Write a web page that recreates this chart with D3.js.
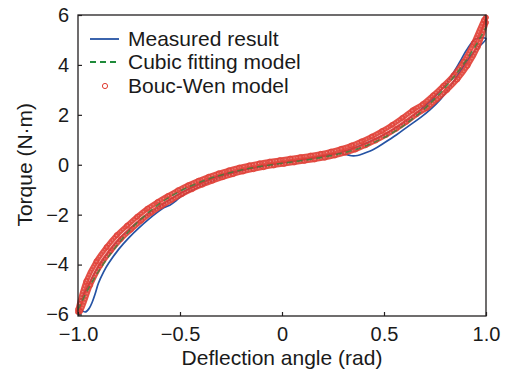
<!DOCTYPE html>
<html>
<head>
<meta charset="utf-8">
<script src="https://cdn.jsdelivr.net/npm/d3@7"></script>
<style>
	body { margin: 0; background: #fff; }
	svg { display: block; font-family: 'Liberation Sans', Arial, sans-serif; }
</style>
</head>
<body>
<div id="chart"></div>
<script>
// measured loop, [angle (rad), torque (N·m)], loading then unloading
const measuredUp = [[-1.0,-5.6],[-0.985,-5.8],[-0.965,-5.9],[-0.945,-5.75],[-0.93,-5.5],[-0.915,-5.15],[-0.9,-4.75],[-0.875,-4.3],[-0.85,-3.95],[-0.8,-3.38],[-0.75,-2.92],[-0.7,-2.52],[-0.65,-2.16],[-0.61,-1.9],[-0.58,-1.72],[-0.55,-1.62],[-0.52,-1.45],[-0.5,-1.3],[-0.45,-1.06],[-0.4,-0.86],[-0.35,-0.68],[-0.3,-0.5],[-0.2,-0.25],[-0.1,-0.08],[0,0.06],[0.1,0.2],[0.2,0.35],[0.28,0.46],[0.31,0.42],[0.34,0.36],[0.37,0.37],[0.4,0.45],[0.45,0.62],[0.5,0.87],[0.56,1.19],[0.62,1.55],[0.68,1.9],[0.725,2.2],[0.78,2.65],[0.83,3.2],[0.87,3.7],[0.91,4.2],[0.95,4.6],[1.0,5.05]]
const measuredDown = [[1.0,5.05],[0.95,5.05],[0.905,4.6],[0.87,4.1],[0.8,3.2],[0.7,2.35],[0.6,1.7],[0.5,1.2],[0.4,0.82],[0.3,0.52],[0.2,0.33],[0.1,0.18],[0,0.06],[-0.1,-0.06],[-0.2,-0.22],[-0.3,-0.42],[-0.4,-0.75],[-0.5,-1.15],[-0.6,-1.68],[-0.7,-2.25],[-0.8,-3.0],[-0.9,-4.1],[-0.95,-4.85],[-1.0,-5.6]]

// cubic fitting model
const cubicModel = [[-1,-5.8],[-0.95,-4.98],[-0.9,-4.28],[-0.85,-3.68],[-0.8,-3.14],[-0.75,-2.66],[-0.7,-2.24],[-0.65,-1.88],[-0.6,-1.56],[-0.55,-1.29],[-0.5,-1.06],[-0.45,-0.86],[-0.4,-0.69],[-0.35,-0.54],[-0.3,-0.42],[-0.25,-0.31],[-0.2,-0.21],[-0.15,-0.13],[-0.1,-0.06],[-0.05,0.0],[0,0.06],[0.05,0.11],[0.1,0.17],[0.15,0.23],[0.2,0.3],[0.25,0.38],[0.3,0.47],[0.35,0.58],[0.4,0.72],[0.45,0.89],[0.5,1.09],[0.55,1.32],[0.6,1.59],[0.65,1.9],[0.7,2.25],[0.75,2.65],[0.8,3.1],[0.85,3.6],[0.9,4.15],[0.95,4.78],[1,5.5]]

// Bouc-Wen model, two branches
const boucWenUpper = [[-1.0,-5.8],[-0.96,-4.67],[-0.91,-3.87],[-0.86,-3.3],[-0.81,-2.82],[-0.76,-2.44],[-0.71,-2.08],[-0.66,-1.76],[-0.61,-1.49],[-0.56,-1.25],[-0.51,-1.02],[-0.46,-0.82],[-0.41,-0.64],[-0.36,-0.48],[-0.31,-0.34],[-0.26,-0.22],[-0.21,-0.11],[-0.16,-0.02],[-0.11,0.06],[-0.06,0.13],[-0.01,0.19],[0.04,0.25],[0.09,0.31],[0.14,0.37],[0.19,0.44],[0.24,0.53],[0.29,0.64],[0.34,0.77],[0.39,0.94],[0.44,1.13],[0.49,1.35],[0.54,1.6],[0.59,1.88],[0.64,2.18],[0.69,2.43],[0.74,2.78],[0.79,3.16],[0.84,3.58],[0.89,4.13],[0.94,4.88],[0.99,5.8],[1.0,5.9]]
const boucWenLower = [[-1.0,-5.9],[-0.99,-5.88],[-0.94,-4.83],[-0.89,-4.03],[-0.84,-3.46],[-0.79,-2.98],[-0.74,-2.6],[-0.69,-2.24],[-0.64,-1.92],[-0.59,-1.65],[-0.54,-1.41],[-0.49,-1.18],[-0.44,-0.98],[-0.39,-0.8],[-0.34,-0.64],[-0.29,-0.5],[-0.24,-0.38],[-0.19,-0.27],[-0.14,-0.18],[-0.09,-0.1],[-0.04,-0.03],[0.01,0.03],[0.06,0.09],[0.11,0.15],[0.16,0.21],[0.21,0.28],[0.26,0.37],[0.31,0.48],[0.36,0.61],[0.41,0.78],[0.46,0.97],[0.51,1.19],[0.56,1.44],[0.61,1.72],[0.66,2.02],[0.71,2.27],[0.76,2.62],[0.81,3.0],[0.86,3.42],[0.91,3.97],[0.96,4.72],[1.0,5.7]]

const xTicks = [-1, -0.5, 0, 0.5, 1]
const xTickLabels = ['\u22121.0', '\u22120.5', '0', '0.5', '1.0']
const yTicks = [-6, -4, -2, 0, 2, 4, 6]
const legendNames = ['Measured result', 'Cubic fitting model', 'Bouc-Wen model']

function drawChart() {

	let width = 507
	let height = 372
	const margin = { left: 78, right: 21, top: 15, bottom: 56 }
	const frameColor = '#231f20'
	const blue = '#2553a4'
	const green = '#1f8a3a'
	const red = '#e03c32'

	const svg = d3.select('#chart').append('svg')
		.attr('width', width)
		.attr('height', height)

	const x = d3.scaleLinear()
		.domain([-1, 1])
		.range([margin.left, width - margin.right])

	const y = d3.scaleLinear()
		.domain([-6.06, 6])
		.range([height - margin.bottom, margin.top])

	const line = d3.line()
		.x(d => x(d[0]))
		.y(d => y(d[1]))
		.curve(d3.curveCatmullRom)

	// clip so nothing spills over the frame much
	svg.append('clipPath').attr('id', 'clip')
		.append('rect')
		.attr('x', margin.left - 4)
		.attr('y', margin.top - 4)
		.attr('width', width - margin.left - margin.right + 8)
		.attr('height', height - margin.top - margin.bottom + 8)

	const plot = svg.append('g').attr('clip-path', 'url(#clip)')

	// measured result
	plot.append('path')
		.datum(measuredUp.concat(measuredDown.slice(1)))
		.attr('d', line)
		.attr('fill', 'none')
		.attr('stroke', blue)
		.attr('stroke-width', 1.7)

	// Bouc-Wen: dense open circles, drawn as a speckled band plus markers
	const branches = [boucWenLower, boucWenUpper]
	branches.forEach(b => {
		plot.append('path')
			.datum(b)
			.attr('d', line)
			.attr('fill', 'none')
			.attr('stroke', red)
			.attr('stroke-width', 5.2)
			.attr('stroke-linecap', 'round')
			.attr('opacity', 0.9)
	})
	branches.forEach(b => {
		plot.append('path')
			.datum(b)
			.attr('d', line)
			.attr('fill', 'none')
			.attr('stroke', '#fff')
			.attr('stroke-width', 1.1)
			.attr('stroke-dasharray', '1 2')
			.attr('opacity', 0.4)
	})
	plot.selectAll('circle.bw')
		.data(boucWenLower.concat(boucWenUpper))
		.enter()
		.append('circle')
		.attr('class', 'bw')
		.attr('cx', d => x(d[0]))
		.attr('cy', d => y(d[1]))
		.attr('r', 2.5)
		.attr('fill', 'none')
		.attr('stroke', red)
		.attr('stroke-width', 0.9)
		.attr('opacity', 0.8)

	// cubic fitting model, on top of the band
	plot.append('path')
		.datum(cubicModel)
		.attr('d', line)
		.attr('fill', 'none')
		.attr('stroke', green)
		.attr('stroke-width', 1.6)
		.attr('stroke-dasharray', '6 4')
		.attr('opacity', 0.7)

	// axes, ticks pointing inward
	const xAxis = svg.append('g')
		.attr('transform', `translate(0,${height - margin.bottom})`)
		.call(d3.axisBottom(x).tickValues(xTicks).tickSize(-4).tickPadding(11)
			.tickFormat((d, i) => xTickLabels[i]))
	const yAxis = svg.append('g')
		.attr('transform', `translate(${margin.left},0)`)
		.call(d3.axisLeft(y).tickValues(yTicks).tickSize(-4).tickPadding(9)
			.tickFormat(d => d < 0 ? '\u2212' + Math.abs(d) : d))

	;[xAxis, yAxis].forEach(a => {
		a.select('.domain').remove()
		a.selectAll('line').attr('stroke', frameColor).attr('stroke-width', 1.2)
		a.selectAll('text')
			.attr('fill', '#1a1a1a')
			.style('font-size', '20px')
			.style('font-family', "'Liberation Sans', Arial, sans-serif")
	})
	xAxis.selectAll('text').attr('dy', '0.71em')

	// frame
	svg.append('rect')
		.attr('x', x(-1))
		.attr('y', y(6))
		.attr('width', x(1) - x(-1))
		.attr('height', y(-6.06) - y(6))
		.attr('fill', 'none')
		.attr('stroke', frameColor)
		.attr('stroke-width', 1.3)

	// axis titles
	svg.append('text')
		.attr('x', x(0))
		.attr('y', 365)
		.attr('text-anchor', 'middle')
		.style('font-size', '21px')
		.attr('fill', '#1a1a1a')
		.text('Deflection angle (rad)')

	svg.append('text')
		.attr('transform', `translate(32,${y(0)}) rotate(-90)`)
		.attr('text-anchor', 'middle')
		.style('font-size', '21px')
		.attr('fill', '#1a1a1a')
		.text('Torque (N\u00b7m)')

	// legend
	const legend = svg.append('g')
	const rowY = [39, 62, 86]
	legend.append('line')
		.attr('x1', 90).attr('x2', 119)
		.attr('y1', rowY[0]).attr('y2', rowY[0])
		.attr('stroke', blue).attr('stroke-width', 1.8)
	legend.append('line')
		.attr('x1', 90).attr('x2', 119)
		.attr('y1', rowY[1]).attr('y2', rowY[1])
		.attr('stroke', green).attr('stroke-width', 1.8)
		.attr('stroke-dasharray', '6 4')
	legend.append('circle')
		.attr('cx', 105).attr('cy', rowY[2])
		.attr('r', 2.6)
		.attr('fill', 'none')
		.attr('stroke', red).attr('stroke-width', 1)
	legend.selectAll('text.leg')
		.data(legendNames)
		.enter()
		.append('text')
		.attr('class', 'leg')
		.attr('x', 128)
		.attr('y', (d, i) => rowY[i] + 6.5)
		.style('font-size', '21px')
		.attr('fill', '#1a1a1a')
		.text(d => d)
}

drawChart()
</script>
</body>
</html>
